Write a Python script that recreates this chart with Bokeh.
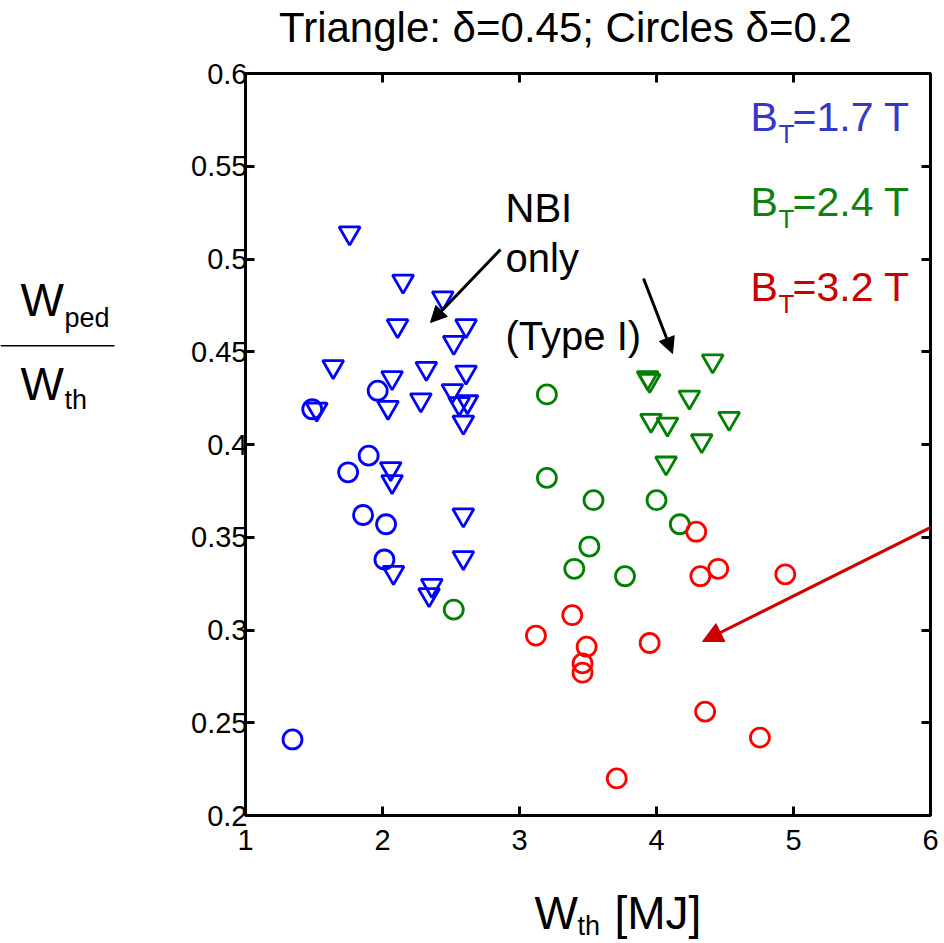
from bokeh.plotting import figure
from bokeh.layouts import column, row
from bokeh.models import Label, Arrow, NormalHead, FixedTicker, LinearAxis, Range1d
from bokeh.embed import file_html
from bokeh.resources import INLINE

# ---------------- data ----------------
# B_T = 1.7 T, triangles (delta = 0.45)
bt17_tri_x = [1.76, 2.15, 2.44, 2.11, 2.61, 2.52, 1.64, 2.07, 2.32, 2.61, 2.51, 2.62,
              2.56, 2.04, 2.28, 1.52, 2.59, 2.06, 2.07, 2.59, 2.08, 2.59, 2.36, 2.34]
bt17_tri_y = [0.514, 0.488, 0.479, 0.464, 0.464, 0.455, 0.442, 0.436, 0.441, 0.439, 0.429, 0.423,
              0.422, 0.420, 0.424, 0.419, 0.412, 0.387, 0.380, 0.362, 0.331, 0.339, 0.324, 0.319]
# B_T = 1.7 T, circles (delta = 0.2)
bt17_cir_x = [1.965, 1.487, 1.899, 1.749, 1.858, 2.026, 2.014, 1.343]
bt17_cir_y = [0.429, 0.419, 0.394, 0.385, 0.362, 0.357, 0.338, 0.241]
# B_T = 2.4 T, triangles
bt24_tri_x = [4.41, 3.935, 3.95, 4.24, 3.96, 4.08, 4.53, 4.33, 4.07]
bt24_tri_y = [0.445, 0.436, 0.4345, 0.4255, 0.413, 0.411, 0.414, 0.402, 0.390]
# B_T = 2.4 T, circles
bt24_cir_x = [3.20, 3.20, 3.54, 4.00, 4.17, 3.51, 3.40, 3.77, 2.52]
bt24_cir_y = [0.427, 0.382, 0.370, 0.370, 0.357, 0.345, 0.333, 0.329, 0.311]
# B_T = 3.2 T, circles
bt32_cir_x = [4.29, 4.32, 4.45, 4.94, 3.385, 3.12, 3.49, 3.95, 3.46, 3.46, 4.355, 4.755, 3.71]
bt32_cir_y = [0.353, 0.329, 0.333, 0.330, 0.308, 0.297, 0.291, 0.293, 0.282, 0.277, 0.256, 0.242, 0.220]

x_ticks = [1, 2, 3, 4, 5, 6]
x_tick_labels = ["1", "2", "3", "4", "5", "6"]
y_ticks = [0.2, 0.25, 0.3, 0.35, 0.4, 0.45, 0.5, 0.55, 0.6]
y_tick_labels = ["0.2", "0.25", "0.3", "0.35", "0.4", "0.45", "0.5", "0.55", "0.6"]

title_text = "Triangle: \u03b4=0.45; Circles \u03b4=0.2"
legend_labels = ["=1.7 T", "=2.4 T", "=3.2 T"]
legend_colors = ["#3636c8", "#108010", "#cc0000"]

# ---------------- layout (page pixels) ----------------
FONT = "Liberation Sans"
PAGE_W, PAGE_H = 944, 943
TOP_H = 54            # strip holding the title
LEFT_W = 170          # strip holding the y label
BOT_Y = 870           # strip holding the x label starts here
X0, X1, Y0, Y1 = 1, 6, 0.2, 0.6
FL, FR, FT, FB = 245, 930, 73, 815          # frame edges in page pixels
BASE_K = 0.36         # correction so that the given y is the glyph baseline


def dx(px):
    return X0 + (px - FL) / (FR - FL) * (X1 - X0)


def dy(py):
    return Y1 - (py - FT) / (FB - FT) * (Y1 - Y0)


def blank(w, h):
    f = figure(width=w, height=h, x_range=Range1d(0, w), y_range=Range1d(h, 0),
               x_axis_type=None, y_axis_type=None, output_backend="svg",
               toolbar_location=None, min_border=0)
    f.outline_line_color = None
    f.background_fill_color = "white"
    f.border_fill_color = "white"
    return f


def label_on(fig, text, x, y, size, color="black", align="left"):
    fig.add_layout(Label(x=x, y=y, text=text, text_font=FONT,
                         text_font_size=f"{size}px", text_color=color,
                         text_align=align, text_baseline="alphabetic"))


def blabel(fig, text, px, py, size, color="black", align="left"):
    # px, py: local pixels of a blank strip, py = wanted baseline
    label_on(fig, text, px, py - BASE_K * size, size, color, align)


# ---------------- main plot ----------------
main_w = PAGE_W - LEFT_W
main_h = BOT_Y - TOP_H
p = figure(width=main_w, height=main_h, x_range=Range1d(X0, X1), y_range=Range1d(Y0, Y1),
           output_backend="svg", toolbar_location=None,
           min_border_left=FL - LEFT_W, min_border_right=PAGE_W - FR,
           min_border_top=FT - TOP_H, min_border_bottom=BOT_Y - FB)
p.grid.visible = False
p.background_fill_color = "white"
p.border_fill_color = "white"
p.outline_line_color = "black"
p.outline_line_width = 3


def style_axis(ax, ticks, labels, show):
    ax.ticker = FixedTicker(ticks=ticks)
    ax.major_label_overrides = {t: l for t, l in zip(ticks, labels)}
    ax.major_tick_in = 9
    ax.major_tick_out = 0
    ax.major_tick_line_width = 3
    ax.minor_tick_line_color = None
    ax.axis_line_width = 3
    ax.axis_line_color = "black"
    ax.major_label_text_font = FONT
    ax.major_label_text_font_style = "normal"
    if show:
        ax.major_label_text_color = "black"
        ax.major_label_text_font_size = "29px"
    else:
        ax.major_label_text_color = None
        ax.major_label_text_font_size = "1px"
        ax.major_label_standoff = 0


style_axis(p.xaxis[0], x_ticks, x_tick_labels, True)
style_axis(p.yaxis[0], y_ticks, y_tick_labels, True)
p.xaxis[0].major_label_standoff = 14
p.yaxis[0].major_label_standoff = -2

top_ax = LinearAxis()
style_axis(top_ax, x_ticks, x_tick_labels, False)
p.add_layout(top_ax, "above")
right_ax = LinearAxis()
style_axis(right_ax, y_ticks, y_tick_labels, False)
p.add_layout(right_ax, "right")

# markers
p.scatter(bt17_tri_x, bt17_tri_y, marker="inverted_triangle", size=21, fill_color=None,
          line_color="#0000ff", line_width=2.8)
p.scatter(bt17_cir_x, bt17_cir_y, marker="circle", size=19, fill_color=None,
          line_color="#0000ff", line_width=2.8)
p.scatter(bt24_tri_x, bt24_tri_y, marker="inverted_triangle", size=21, fill_color=None,
          line_color="#008000", line_width=2.8)
p.scatter(bt24_cir_x, bt24_cir_y, marker="circle", size=19, fill_color=None,
          line_color="#008000", line_width=2.8)
p.scatter(bt32_cir_x, bt32_cir_y, marker="circle", size=19, fill_color=None,
          line_color="#ff0000", line_width=2.8)


def plabel(text, px, py, size, color="black", align="left"):
    # px, py in page pixels, py = wanted baseline
    label_on(p, text, dx(px), dy(py - BASE_K * size), size, color, align)


# legend (B_T = ...)
for i, (txt, col) in enumerate(zip(legend_labels, legend_colors)):
    base = 131.7 + 85 * i
    plabel("B", 750, base, 41, col)
    plabel("T", 778, base + 11.3, 26, col)
    plabel(txt, 792, base, 41, col)

# annotations
plabel("NBI", 505, 221.7, 40)
plabel("only", 505, 271.7, 40)
plabel("(Type I)", 505, 350, 40)

p.add_layout(Arrow(end=NormalHead(size=16, fill_color="black", line_color="black"),
                   x_start=dx(500), y_start=dy(249), x_end=dx(430), y_end=dy(322),
                   line_color="black", line_width=3))
p.add_layout(Arrow(end=NormalHead(size=16, fill_color="black", line_color="black"),
                   x_start=dx(643), y_start=dy(278), x_end=dx(672), y_end=dy(353),
                   line_color="black", line_width=3))
p.add_layout(Arrow(end=NormalHead(size=20, fill_color="#cc0000", line_color="#cc0000"),
                   x_start=dx(960), y_start=dy(512), x_end=dx(702), y_end=dy(641),
                   line_color="#cc0000", line_width=3))

# ---------------- title strip ----------------
top_fig = blank(PAGE_W, TOP_H)
blabel(top_fig, title_text, 565, 42, 42, align="center")

# ---------------- y label strip (fraction) ----------------
left_fig = blank(LEFT_W, main_h)
oy = TOP_H
blabel(left_fig, "W", 20, 320 - oy, 46)
blabel(left_fig, "ped", 64, 333 - oy, 27)
blabel(left_fig, "W", 20, 411.7 - oy, 46)
blabel(left_fig, "th", 64, 423 - oy, 27)
left_fig.add_layout(Arrow(end=None, x_start=0, y_start=353.3 - oy, x_end=114, y_end=353.3 - oy,
                          line_color="black", line_width=1.5))

# ---------------- x label strip ----------------
bot_fig = blank(PAGE_W, PAGE_H - BOT_Y)
ob = BOT_Y
blabel(bot_fig, "W", 534, 929 - ob, 46)
blabel(bot_fig, "th", 577, 935 - ob, 27)
blabel(bot_fig, "[MJ]", 614, 929 - ob, 46)

layout = column(top_fig, row(left_fig, p, spacing=0), bot_fig, spacing=0)
open("out.html", "w").write(file_html(layout, INLINE))
